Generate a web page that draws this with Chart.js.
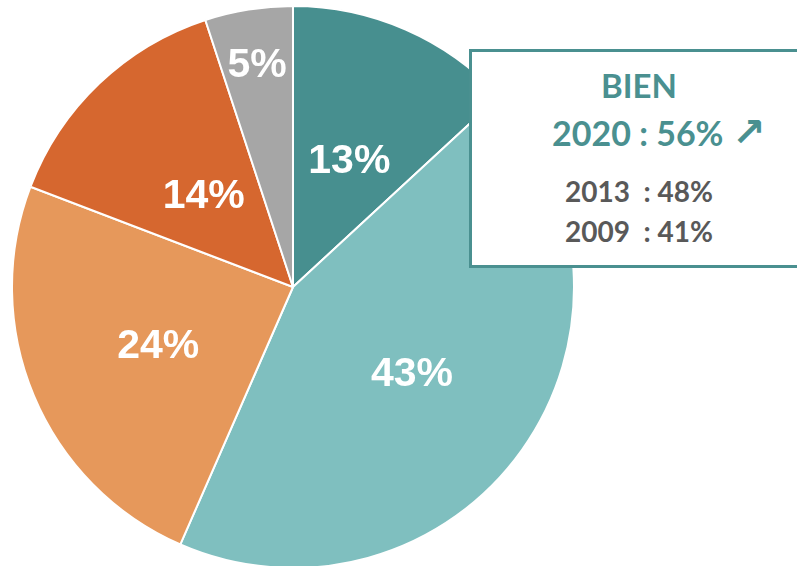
<!DOCTYPE html>
<html lang="fr">
<head>
<meta charset="utf-8">
<script src="https://cdn.jsdelivr.net/npm/chart.js@4"></script>
<style>
  html, body { margin: 0; padding: 0; background: #fff; overflow: hidden; }
  body { width: 797px; height: 566px; position: relative; }
  #wrap { position: absolute; left: 11px; top: 5px; width: 564px; height: 564px; }
  #encart {
    position: absolute; left: 469px; top: 49px; width: 340px; height: 213px;
    background: #fff; border: 3px solid #4A9090; box-sizing: content-box;
    font-family: Lato, "Open Sans", sans-serif; font-weight: bold; line-height: 1;
  }
  #encart div { position: absolute; white-space: nowrap; }
  .titre { color: #4A9090; font-size: 33px; left: 129px; top: 17px; }
  .actuel { color: #4A9090; font-size: 34px; left: 80px; top: 64px; }
  .fleche { position: absolute; left: 180px; top: -4px; font-size: 40px; font-family: "DejaVu Sans", sans-serif; font-weight: bold; }
  .ancien { color: #595959; font-size: 28px; left: 93px; }
</style>
</head>
<body>
<div id="wrap"><canvas id="camembert"></canvas></div>
<div id="encart">
  <div class="titre">BIEN</div>
  <div class="actuel">2020 : 56%<span class="fleche">↗</span></div>
  <div class="ancien" style="top:125px">2013&nbsp; : 48%</div>
  <div class="ancien" style="top:165px">2009&nbsp; : 41%</div>
</div>
<script>
// parts du camembert, dans le sens horaire depuis le haut
const categories = ["Très bien", "Bien", "Assez bien", "Mal", "Ne sait pas"];
const valeurs = [13, 43, 24, 14, 5];
const couleurs = ["#478F8F", "#7FBFBF", "#E6985B", "#D6672F", "#A6A6A6"];
// distance des étiquettes au centre (fraction du rayon)
const distEtiquettes = [0.5, 0.52, 0.52, 0.46, 0.81];

const etiquettes = {
    id: "etiquettes",
    afterDatasetsDraw(chart) {
        const c = chart.ctx;
        const arcs = chart.getDatasetMeta(0).data;
        c.save();
        c.font = "bold 41px 'Liberation Sans', Arial, sans-serif";
        c.fillStyle = "#fff";
        c.textAlign = "center";
        c.textBaseline = "middle";
        arcs.forEach((arc, i) => {
            const mid = (arc.startAngle + arc.endAngle) / 2;
            const r = arc.outerRadius * distEtiquettes[i];
            c.fillText(valeurs[i] + "%", arc.x + Math.cos(mid) * r, arc.y + Math.sin(mid) * r + 3);
        });
        c.restore();
    }
};

new Chart(document.getElementById("camembert"), {
    type: "pie",
    data: {
        labels: categories,
        datasets: [{
            data: valeurs,
            backgroundColor: couleurs,
            borderColor: "#fff",
            borderWidth: 2
        }]
    },
    options: {
        responsive: true,
        maintainAspectRatio: false,
        animation: false,
        layout: { padding: 0 },
        plugins: {
            legend: { display: false },
            tooltip: { enabled: false }
        }
    },
    plugins: [etiquettes]
});
</script>
</body>
</html>
